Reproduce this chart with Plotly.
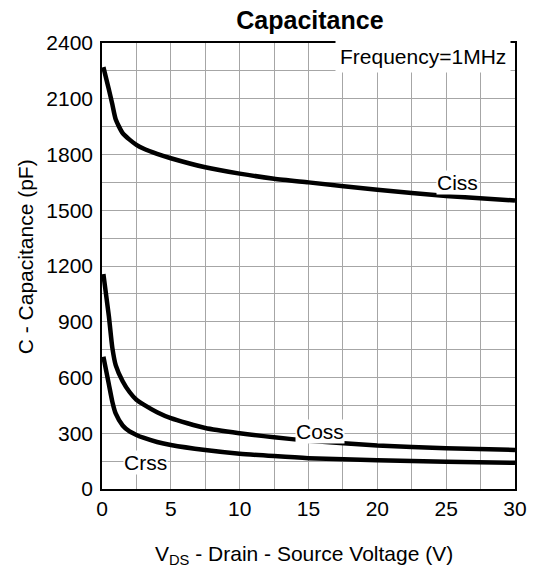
import plotly.graph_objects as go

# Data
vds = [0.1, 0.5, 0.75, 1, 1.5, 2, 2.5, 3, 4, 5, 7.5, 10, 12.5, 15, 20, 25, 30]
ciss = [2270, 2150, 2070, 1988, 1915, 1880, 1852, 1832, 1803, 1780, 1731, 1697, 1670, 1650, 1610, 1577, 1552]
coss = [1157, 930, 760, 665, 580, 522, 480, 455, 413, 381, 328, 300, 278, 260, 234, 219, 210]
crss = [712, 563, 470, 405, 342, 310, 291, 276, 253, 237, 210, 190, 177, 166, 155, 147, 141]

x_ticks = [0, 5, 10, 15, 20, 25, 30]
y_ticks = [0, 300, 600, 900, 1200, 1500, 1800, 2100, 2400]

labels = ["Ciss", "Coss", "Crss"]
label_x = [25.8, 15.8, 3.15]
label_y = [1652, 307, 145]

FONT = "Liberation Sans, Arial, sans-serif"

fig = go.Figure()
for name, ys in zip(labels, [ciss, coss, crss]):
    fig.add_trace(go.Scatter(
        x=vds, y=ys, mode="lines", name=name,
        line=dict(color="black", width=4.5, shape="spline", smoothing=0.6),
        showlegend=False, hoverinfo="skip",
    ))

for t, lx, ly in zip(labels, label_x, label_y):
    fig.add_annotation(x=lx, y=ly, xref="x", yref="y", text=t, showarrow=False,
                       font=dict(size=21, color="black", family=FONT),
                       bgcolor="white", borderpad=0)

fig.add_annotation(x=23.3, y=2325, xref="x", yref="y", text="Frequency=1MHz",
                   showarrow=False, font=dict(size=21, color="black", family=FONT),
                   bgcolor="white", borderpad=4)

# Axis titles
fig.add_annotation(x=0.49, y=-0.148, xref="paper", yref="paper",
                   text="V<sub>DS</sub> - Drain - Source Voltage (V)",
                   showarrow=False, xanchor="center", yanchor="middle",
                   font=dict(size=21, color="black", family=FONT))
fig.add_annotation(x=-0.186, y=0.52, xref="paper", yref="paper",
                   text="C - Capacitance (pF)", textangle=-90,
                   showarrow=False, xanchor="center", yanchor="middle",
                   font=dict(size=21, color="black", family=FONT))

fig.update_layout(
    width=539, height=576,
    margin=dict(l=102, r=22, t=43, b=87),
    paper_bgcolor="white", plot_bgcolor="white",
    font=dict(family=FONT, size=21, color="black"),
    title=dict(text="<b>Capacitance</b>", x=0.575, xanchor="center",
               y=1 - 20 / 576, yanchor="middle", yref="container",
               font=dict(size=25, family=FONT, color="black")),
    xaxis=dict(range=[0, 30], tickvals=x_ticks, ticktext=[str(v) for v in x_ticks],
               showgrid=True, gridcolor="#a6a6a6", gridwidth=1,
               minor=dict(dtick=2.5, tick0=0, showgrid=True, gridcolor="#a6a6a6", gridwidth=1),
               showline=True, linecolor="black", linewidth=1.5, mirror=True,
               ticks="",
               zeroline=False, tickfont=dict(size=21)),
    yaxis=dict(range=[0, 2400], tickvals=y_ticks, ticktext=[str(v) for v in y_ticks],
               showgrid=True, gridcolor="#a6a6a6", gridwidth=1,
               minor=dict(dtick=150, tick0=0, showgrid=True, gridcolor="#a6a6a6", gridwidth=1),
               showline=True, linecolor="black", linewidth=1.5, mirror=True,
               ticks="outside", ticklen=3, tickcolor="rgba(0,0,0,0)",
               zeroline=False, tickfont=dict(size=21)),
)

fig.write_html("out.html")
